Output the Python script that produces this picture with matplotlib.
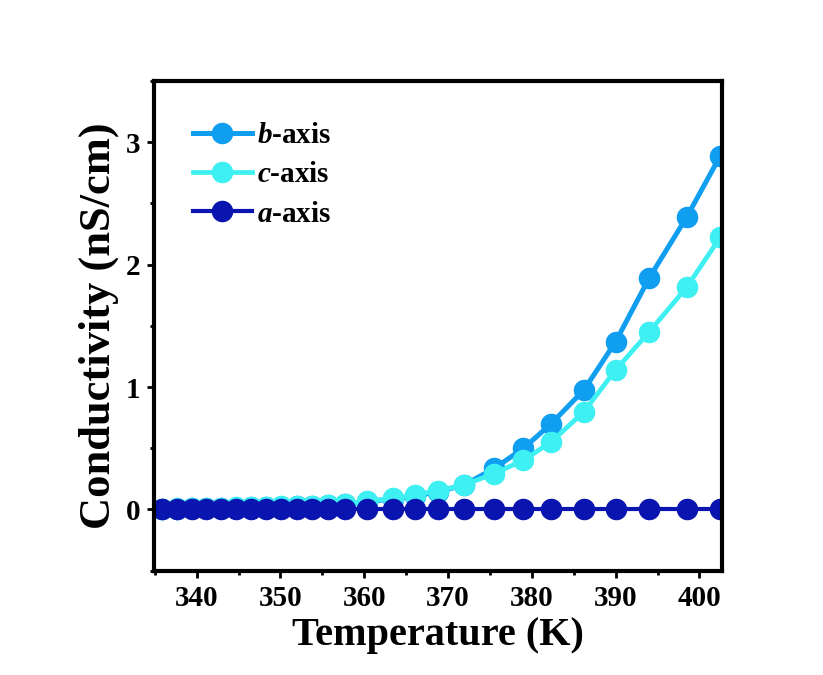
import matplotlib
matplotlib.use("Agg")
import matplotlib.pyplot as plt
from matplotlib.ticker import MultipleLocator

# temperatures (K) shared by all three series
temperature = [335.8, 337.6, 339.4, 341.1, 342.9, 344.7, 346.5, 348.3, 350.1, 352.0,
               353.8, 355.7, 357.7, 360.3, 363.4, 366.1, 368.8, 371.9, 375.5, 379.0,
               382.3, 386.2, 390.0, 394.0, 398.5, 402.5]

# conductivity (nS/cm)
b_axis = [0.006, 0.008, 0.009, 0.011, 0.013, 0.015, 0.017, 0.02, 0.023, 0.026,
          0.03, 0.034, 0.042, 0.065, 0.085, 0.11, 0.145, 0.2, 0.335, 0.5,
          0.7, 0.975, 1.37, 1.89, 2.39, 2.89]
c_axis = [0.008, 0.01, 0.011, 0.013, 0.015, 0.017, 0.019, 0.022, 0.025, 0.028,
          0.032, 0.036, 0.045, 0.07, 0.09, 0.12, 0.155, 0.2, 0.294, 0.402,
          0.552, 0.797, 1.14, 1.45, 1.817, 2.225]
a_axis = [0.008] * len(temperature)

plt.rcParams['font.family'] = ['Liberation Serif', 'DejaVu Serif']
plt.rcParams['font.weight'] = 'bold'
plt.rcParams['mathtext.fontset'] = 'custom'
plt.rcParams['mathtext.it'] = 'Liberation Serif:italic:bold'
plt.rcParams['mathtext.rm'] = 'Liberation Serif:bold'

fig = plt.figure(figsize=(8.23, 6.75), dpi=100)
ax = fig.add_axes([0.1871, 0.1545, 0.6902, 0.7255])

ax.plot(temperature, b_axis, '-o', color='#0F9EF0', lw=3.6, ms=14.5, label=r'$b$-axis')
ax.plot(temperature, c_axis, '-o', color='#3EF0F2', lw=3.4, ms=14.5, label=r'$c$-axis')
ax.plot(temperature, a_axis, '-o', color='#0A14AE', lw=3.0, ms=14.5, label=r'$a$-axis')

ax.set_xlim(334.9, 402.7)
ax.set_ylim(-0.5, 3.5)
ax.xaxis.set_major_locator(MultipleLocator(10))
ax.xaxis.set_minor_locator(MultipleLocator(5))
ax.yaxis.set_major_locator(MultipleLocator(1))
ax.yaxis.set_minor_locator(MultipleLocator(0.5))

for sp in ax.spines.values():
    sp.set_linewidth(3)
ax.tick_params(which='major', direction='out', length=5, width=2, labelsize=21, pad=5)
ax.tick_params(which='minor', direction='out', length=3, width=2)

ax.set_xlabel('Temperature (K)', fontsize=29, fontweight='bold', labelpad=4)
ax.set_ylabel('Conductivity (nS/cm)', fontsize=32, fontweight='bold', labelpad=5)

ax.legend(loc='upper left', frameon=False, fontsize=21, handlelength=2.0,
          handletextpad=0.2, labelspacing=0.42, borderaxespad=0, borderpad=0,
          bbox_to_anchor=(0.069, 0.916))

fig.savefig('out.png', dpi=100)
